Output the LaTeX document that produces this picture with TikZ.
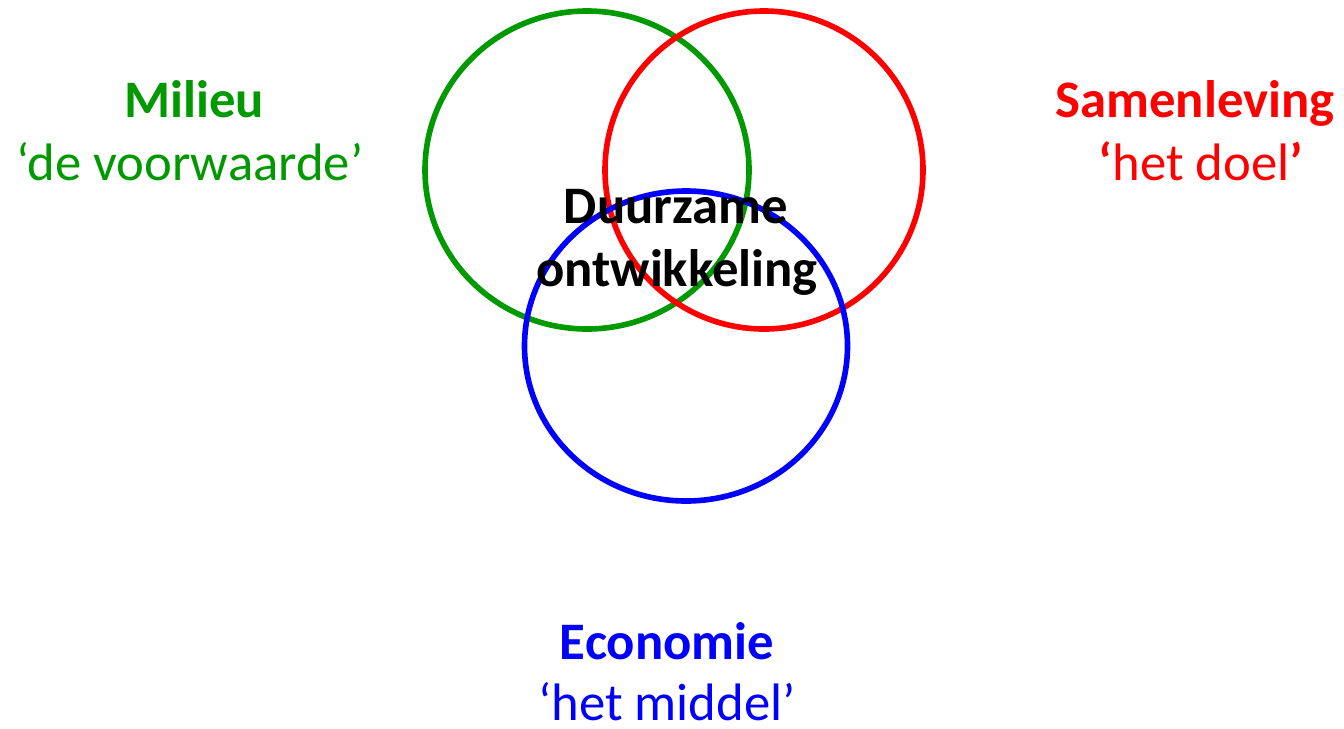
\documentclass[tikz,border=0pt]{standalone}
\usepackage{fontspec}
\setmainfont{Carlito}
\usepackage{tikz}

\definecolor{milieugreen}{RGB}{0,153,0}
\definecolor{samenred}{RGB}{255,0,0}
\definecolor{econblue}{RGB}{0,0,255}

\begin{document}
\begin{tikzpicture}[x=0.02cm,y=-0.02cm]
					\tikzstyle{ring}=[line width=3.2pt]
					\tikzstyle{label}=[inner sep=0pt,anchor=base,font=\fontsize{30}{36}\selectfont]
					\tikzstyle{title}=[label,font=\fontsize{30}{36}\selectfont\bfseries]
					\useasboundingbox (0,0) rectangle (1344,728);
					\draw[ring,milieugreen] (587,170) ellipse [x radius=162, y radius=159];
					\draw[ring,samenred] (764,170) ellipse [x radius=159, y radius=159];
					\draw[ring,econblue] (686,346) ellipse [x radius=161.5, y radius=155];
					\node[title,milieugreen] (milieu) at (194,117) {Milieu};
					\node[label,milieugreen] (voorwaarde) at (190,180) {‘de voorwaarde’};
					\node[title,samenred] (samenleving) at (1195,117) {Samenleving};
					\node[label,samenred] (doel) at (1201,180) {{\bfseries ‘}het doel{\bfseries ’}};
					\node[title,econblue] (economie) at (667,659) {Economie};
					\node[label,econblue] (middel) at (667,720) {‘het middel’};
					\node[title] (duurzame) at (676,223) {Duurzame};
					\node[title] (ontwikkeling) at (677,286) {ontwikkeling};
					\end{tikzpicture}
\end{document}
